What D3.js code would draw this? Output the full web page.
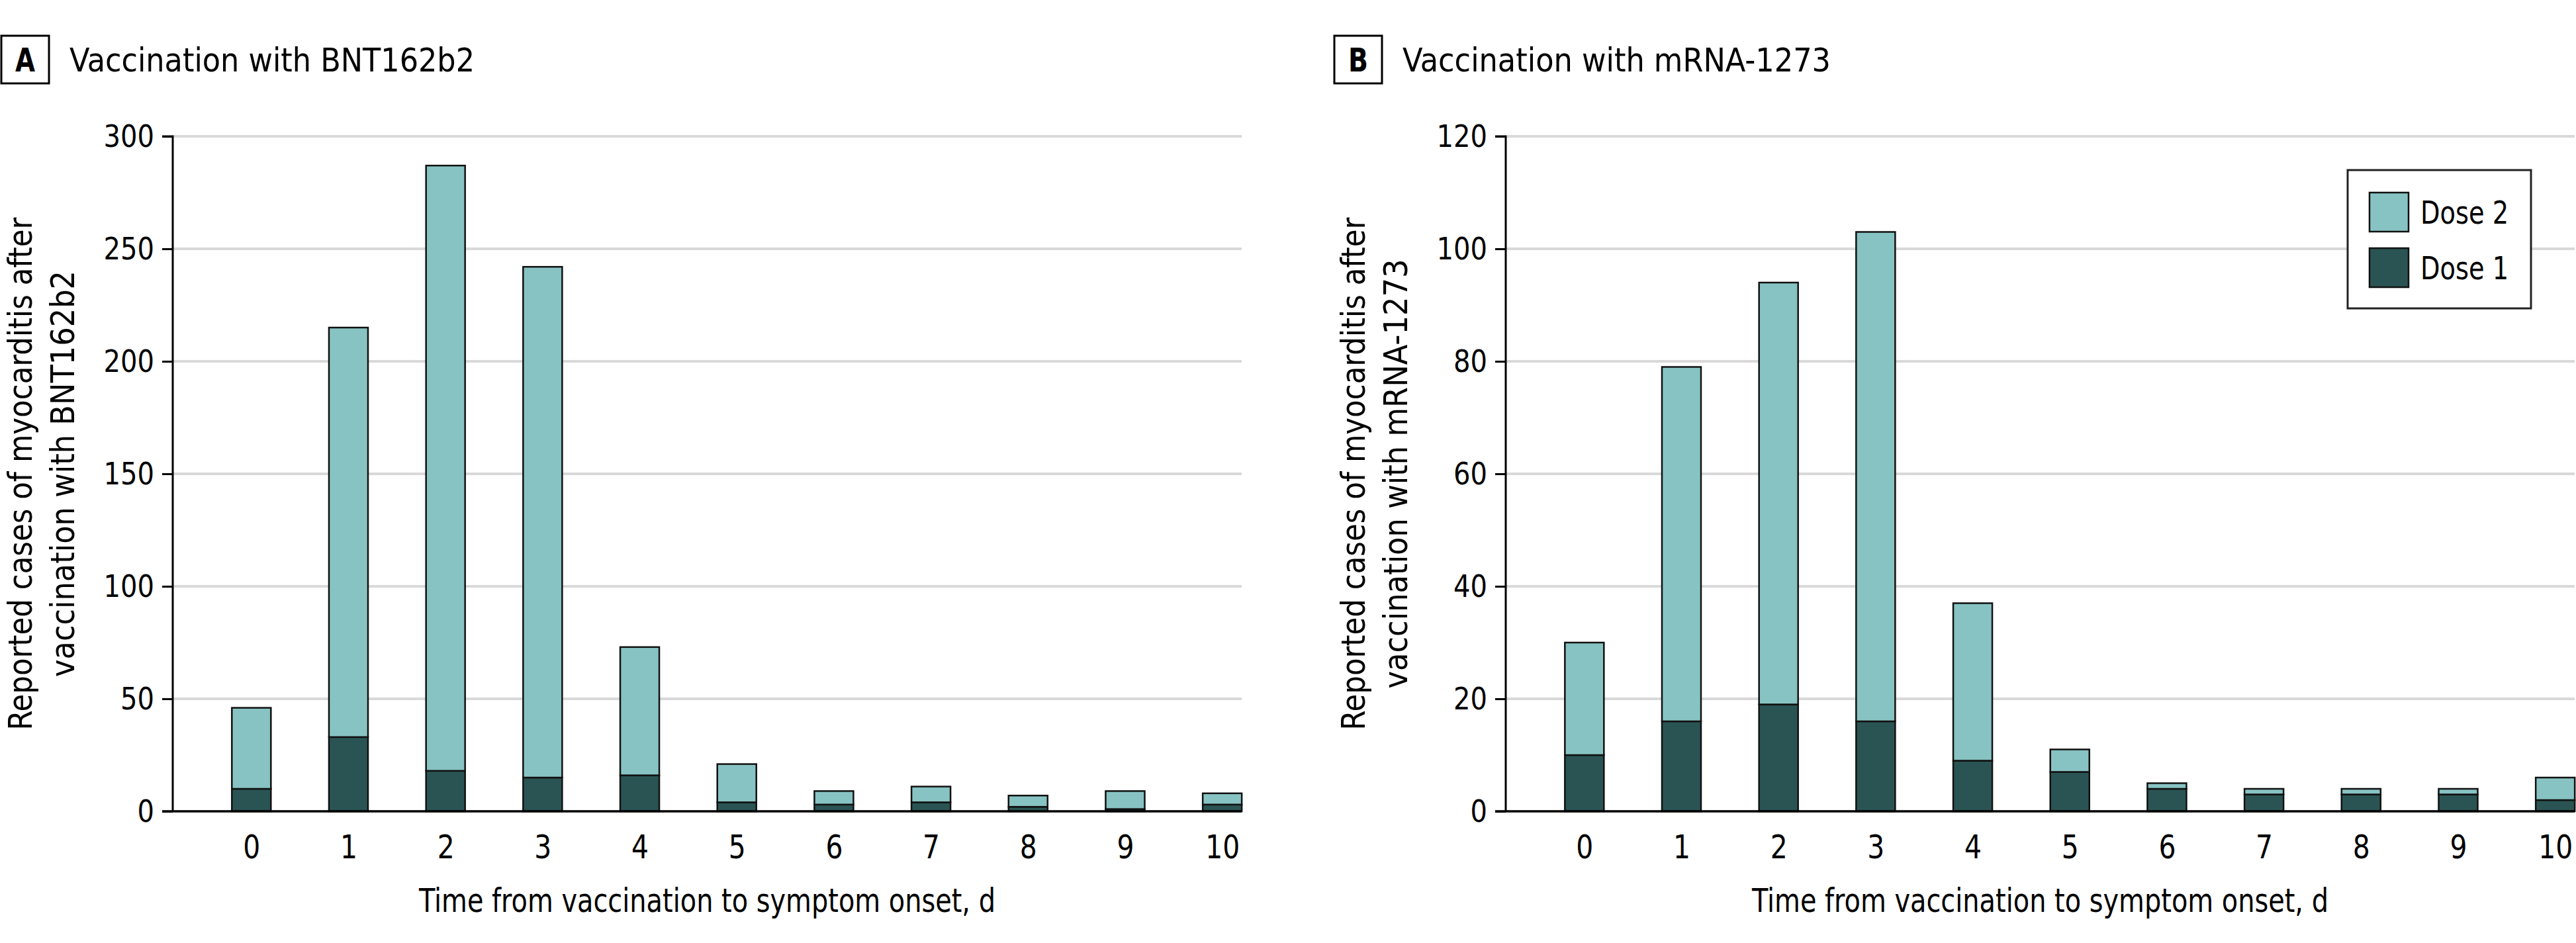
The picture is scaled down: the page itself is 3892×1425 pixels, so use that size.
<!DOCTYPE html>
<html>
<head>
<meta charset="utf-8">
<script src="https://cdn.jsdelivr.net/npm/d3@7"></script>
<style>
  html, body { margin: 0; padding: 0; background: #fff; }
  svg text { font-family: "DejaVu Sans Condensed", "Liberation Sans Narrow", "Open Sans", sans-serif; fill: #000; }
</style>
</head>
<body>
<svg id="chart" width="3892" height="1425"></svg>
<script>
// ---- data ----
const days = [0, 1, 2, 3, 4, 5, 6, 7, 8, 9, 10];
const bntDose1 = [10, 33, 18, 15, 16, 4, 3, 4, 2, 1, 3];
const bntDose2 = [36, 182, 269, 227, 57, 17, 6, 7, 5, 8, 5];
const mrnaDose1 = [10, 16, 19, 16, 9, 7, 4, 3, 3, 3, 2];
const mrnaDose2 = [20, 63, 75, 87, 28, 4, 1, 1, 1, 1, 4];
const bntTicks = [0, 50, 100, 150, 200, 250, 300];
const mrnaTicks = [0, 20, 40, 60, 80, 100, 120];
const seriesNames = ["Dose 1", "Dose 2"];
const legendOrder = ["Dose 2", "Dose 1"];

const colors = { "Dose 1": "#2a5453", "Dose 2": "#87c3c2" };
const svg = d3.select("#chart");

function fit(sel, len) {
  return sel.attr("textLength", len).attr("lengthAdjust", "spacingAndGlyphs");
}

function panel(opts) {
  const ox = opts.ox;
  const g = svg.append("g").attr("transform", `translate(${ox},0)`);
  const left = 261, right = 1876, top = 206, bottom = 1226;
  const x = d3.scaleLinear().domain([-0.81, 10.2]).range([left, right]);
  const y = d3.scaleLinear().domain([0, d3.max(opts.ticks)]).range([bottom, top]);
  const bw = 59;

  // panel label box + title
  g.append("rect").attr("x", 2).attr("y", 54).attr("width", 72).attr("height", 72)
    .attr("fill", "none").attr("stroke", "#000").attr("stroke-width", 3);
  fit(g.append("text").attr("x", 38).attr("y", 108).attr("text-anchor", "middle")
    .attr("font-size", 50).attr("font-weight", "bold").text(opts.letter), 30);
  fit(g.append("text").attr("x", 105).attr("y", 108).attr("font-size", 50).text(opts.title), opts.titleLen);

  // gridlines
  g.append("g").selectAll("line").data(opts.ticks.filter(t => t > 0)).join("line")
    .attr("x1", left).attr("x2", right)
    .attr("y1", d => y(d)).attr("y2", d => y(d))
    .attr("stroke", "#d9d9d9").attr("stroke-width", 4);

  // stacked bars
  const rows = days.map((d, i) => ({ day: d, "Dose 1": opts.d1[i], "Dose 2": opts.d2[i] }));
  const stacked = d3.stack().keys(seriesNames)(rows);
  g.append("g").selectAll("g").data(stacked).join("g")
    .attr("fill", s => colors[s.key])
    .selectAll("rect").data(s => s).join("rect")
    .attr("x", d => x(d.data.day) - bw / 2)
    .attr("width", bw)
    .attr("y", d => y(d[1]))
    .attr("height", d => y(d[0]) - y(d[1]))
    .attr("stroke", "#111").attr("stroke-width", 2.5);

  // y axis
  const yAxis = d3.axisLeft(y).tickValues(opts.ticks).tickSize(16).tickPadding(12);
  const ya = g.append("g").attr("transform", `translate(${left},0)`).call(yAxis);
  ya.select(".domain").attr("stroke", "#000").attr("stroke-width", 3).attr("d", `M-16,${top}H0V${bottom}`);
  ya.selectAll(".tick line").attr("stroke", "#000").attr("stroke-width", 3);
  ya.selectAll(".tick text").attr("font-size", 47).attr("font-family", null)
    .each(function (d) { fit(d3.select(this), String(d).length * 25.5); });

  // x axis line
  g.append("line").attr("x1", left - 16).attr("x2", right).attr("y1", bottom).attr("y2", bottom)
    .attr("stroke", "#000").attr("stroke-width", 3.5);
  const xAxis = d3.axisBottom(x).tickValues(days).tickSize(0).tickPadding(36).tickFormat(d3.format("d"));
  const xa = g.append("g").attr("transform", `translate(0,${bottom})`).call(xAxis);
  xa.select(".domain").remove();
  xa.selectAll(".tick text").attr("font-size", 49).attr("font-family", null)
    .each(function (d) { fit(d3.select(this), String(d).length * 26); });

  // axis titles
  fit(g.append("text").attr("x", (left + right) / 2).attr("y", 1378).attr("text-anchor", "middle")
    .attr("font-size", 50).text("Time from vaccination to symptom onset, d"), 871);
  const yt = g.append("text").attr("transform", `translate(0,${(top + bottom) / 2}) rotate(-90)`)
    .attr("text-anchor", "middle").attr("font-size", 50);
  fit(yt.append("tspan").attr("x", 0).attr("y", 48).text("Reported cases of myocarditis after"), 775);
  fit(yt.append("tspan").attr("x", 0).attr("y", 112).text(opts.ytitle2), opts.ytitle2Len);

  return g;
}

panel({ ox: 0, letter: "A", title: "Vaccination with BNT162b2", titleLen: 612, ticks: bntTicks,
  d1: bntDose1, d2: bntDose2, ytitle2: "vaccination with BNT162b2", ytitle2Len: 614 });
panel({ ox: 2014, letter: "B", title: "Vaccination with mRNA-1273", titleLen: 647, ticks: mrnaTicks,
  d1: mrnaDose1, d2: mrnaDose2, ytitle2: "vaccination with mRNA-1273", ytitle2Len: 649 });

// legend (panel B)
const lg = svg.append("g");
lg.append("rect").attr("x", 3547).attr("y", 257).attr("width", 277).attr("height", 209)
  .attr("fill", "#fff").attr("stroke", "#222").attr("stroke-width", 3);
lg.selectAll("g.item").data(legendOrder).join("g").attr("class", "item")
  .attr("transform", (d, i) => `translate(3580,${291 + i * 84})`)
  .each(function (d) {
    const it = d3.select(this);
    it.append("rect").attr("width", 59).attr("height", 59)
      .attr("fill", colors[d]).attr("stroke", "#111").attr("stroke-width", 2.5);
    fit(it.append("text").attr("x", 77).attr("y", 47).attr("font-size", 48).text(d), 133);
  });
</script>
</body>
</html>
